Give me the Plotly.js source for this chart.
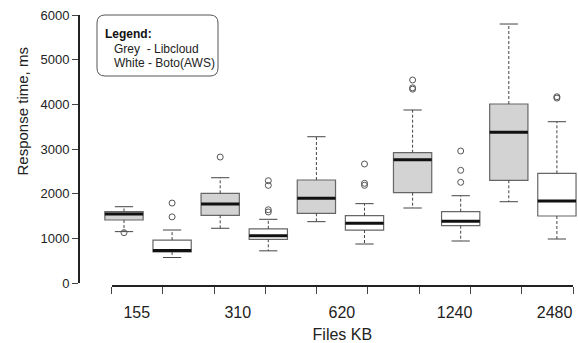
<!DOCTYPE html>
<html>
<head>
<meta charset="utf-8">
<script src="https://cdn.plot.ly/plotly-3.0.1.min.js"></script>
<style>html,body{margin:0;padding:0;background:#fff;}</style>
</head>
<body>
<div id="chart" style="width:578px;height:343px;"></div>
<script>
// ---- data ----
const files = ['155', '310', '620', '1240', '2480'];
const yTicks = [0, 1000, 2000, 3000, 4000, 5000, 6000];

// Grey - Libcloud
const libLower = [1150, 1225, 1373, 1679, 1820];
const libQ1    = [1410, 1515, 1560, 2022, 2299];
const libMed   = [1545, 1769, 1896, 2760, 3373];
const libQ3    = [1600, 2008, 2306, 2917, 4007];
const libUpper = [1708, 2357, 3275, 3873, 5798];
const libOut   = [[1127], [2820], [], [4545, 4370, 4340], []];

// White - Boto(AWS)
const botoLower = [570, 720, 873, 940, 985];
const botoQ1    = [695, 978, 1186, 1283, 1500];
const botoMed   = [725, 1056, 1336, 1381, 1836];
const botoQ3    = [960, 1212, 1507, 1597, 2456];
const botoUpper = [1186, 1426, 1776, 1954, 3611];
const botoOut   = [[1480, 1790], [2290, 2185, 1640, 1590], [2664, 2232, 2187], [2955, 2523, 2254], [4170, 4140]];

// ---- build traces ----
const libPos = files.map((_, i) => 2 * i + 1);
const botoPos = files.map((_, i) => 2 * i + 2);
const BOXW = 0.796, CAP = 0.19;

function boxTrace(pos, q1, med, q3, fill) {
  return {
    type: 'box', x: pos, q1: q1, median: med, q3: q3,
    lowerfence: q1, upperfence: q3, width: BOXW,
    fillcolor: fill, line: {color: '#666', width: 1.2},
    boxpoints: false, hoverinfo: 'skip', showlegend: false
  };
}
const wx = [], wy = [], cx = [], cy = [], mx = [], my = [], ox = [], oy = [];
function addGroup(pos, lo, q1, med, q3, up, outs) {
  pos.forEach((p, i) => {
    wx.push(p, p, null, p, p, null);
    wy.push(q3[i], up[i], null, q1[i], lo[i], null);
    cx.push(p - CAP, p + CAP, null, p - CAP, p + CAP, null);
    cy.push(up[i], up[i], null, lo[i], lo[i], null);
    mx.push(p - BOXW / 2, p + BOXW / 2, null);
    my.push(med[i], med[i], null);
    outs[i].forEach(v => { ox.push(p); oy.push(v); });
  });
}
addGroup(libPos, libLower, libQ1, libMed, libQ3, libUpper, libOut);
addGroup(botoPos, botoLower, botoQ1, botoMed, botoQ3, botoUpper, botoOut);

const traces = [
  boxTrace(libPos, libQ1, libMed, libQ3, '#d3d3d3'),
  boxTrace(botoPos, botoQ1, botoMed, botoQ3, '#ffffff'),
  {type: 'scatter', mode: 'lines', x: wx, y: wy, line: {color: '#444', width: 1, dash: '3px,2px'}, hoverinfo: 'skip', showlegend: false},
  {type: 'scatter', mode: 'lines', x: cx, y: cy, line: {color: '#444', width: 1}, hoverinfo: 'skip', showlegend: false},
  {type: 'scatter', mode: 'lines', x: mx, y: my, line: {color: '#111', width: 3}, hoverinfo: 'skip', showlegend: false},
  {type: 'scatter', mode: 'markers', x: ox, y: oy, marker: {symbol: 'circle-open', size: 6, color: '#555', line: {width: 1, color: '#555'}}, hoverinfo: 'skip', showlegend: false},
  {type: 'scatter', x: [], y: [], xaxis: 'x2', yaxis: 'y', hoverinfo: 'skip', showlegend: false},
  {type: 'scatter', x: [], y: [], xaxis: 'x3', yaxis: 'y', hoverinfo: 'skip', showlegend: false}
];

// ---- layout helpers (pixel -> paper) ----
const L = 80, R = 1, T = 15, B = 57, W = 578, H = 343;
const PW = W - L - R, PH = H - T - B;
const X = px => (px - L) / PW;
const Y = py => (H - B - py) / PH;

function roundRect(x0, y0, x1, y1, r) {
  return `M ${X(x0 + r)},${Y(y0)} L ${X(x1 - r)},${Y(y0)} Q ${X(x1)},${Y(y0)} ${X(x1)},${Y(y0 + r)} ` +
         `L ${X(x1)},${Y(y1 - r)} Q ${X(x1)},${Y(y1)} ${X(x1 - r)},${Y(y1)} ` +
         `L ${X(x0 + r)},${Y(y1)} Q ${X(x0)},${Y(y1)} ${X(x0)},${Y(y1 - r)} ` +
         `L ${X(x0)},${Y(y0 + r)} Q ${X(x0)},${Y(y0)} ${X(x0 + r)},${Y(y0)} Z`;
}

const FONT = 'Liberation Sans, Arial, Helvetica, sans-serif';
const tickDom = [X(111.7), X(573)];

const layout = {
  width: W, height: H,
  margin: {l: L, r: R, t: T, b: B, pad: 0},
  paper_bgcolor: '#ffffff', plot_bgcolor: 'rgba(0,0,0,0)',
  showlegend: false,
  font: {family: FONT, color: '#222'},
  xaxis: {range: [(L - 75.9) / 48.1, (W - R - 75.9) / 48.1], showline: false, showgrid: false, zeroline: false, showticklabels: false, ticks: ''},
  xaxis2: {domain: tickDom, range: [0, 9], anchor: 'free', position: 0, showline: true, linewidth: 2, linecolor: '#222',
           ticks: 'outside', ticklen: 7, tickwidth: 1, tickcolor: '#444', tickmode: 'linear', tick0: 0, dtick: 1,
           showticklabels: false, showgrid: false, zeroline: false},
  xaxis3: {domain: tickDom, range: [0, 9], anchor: 'free', position: 0, showline: false, showgrid: false, zeroline: false,
           ticks: 'outside', ticklen: 12, tickcolor: 'rgba(0,0,0,0)', tickmode: 'array',
           tickvals: [0.49, 2.46, 4.49, 6.69, 8.64], ticktext: files, tickfont: {size: 16, color: '#222'},
           title: {text: 'Files KB', font: {size: 16, color: '#222'}, standoff: 9}},
  yaxis: {domain: [3 / PH, 1], range: [0, 6000], showline: true, linewidth: 2, linecolor: '#222',
          ticks: 'outside', ticklen: 6, tickwidth: 1, tickcolor: '#444', tickmode: 'array', tickvals: yTicks,
          tickfont: {size: 13, color: '#222'}, showgrid: false, zeroline: false},
  shapes: [{type: 'path', xref: 'paper', yref: 'paper', path: roundRect(97, 15, 218, 76, 8), line: {color: '#555', width: 1}, fillcolor: 'rgba(0,0,0,0)'}],
  annotations: [
    {xref: 'paper', yref: 'paper', x: X(22), y: Y(111.5), text: 'Response time, ms', textangle: -90, showarrow: false, xanchor: 'center', yanchor: 'middle', font: {size: 15, color: '#222'}},
    {xref: 'paper', yref: 'paper', x: X(103), y: Y(34), text: '<b>Legend:</b>', showarrow: false, xanchor: 'left', yanchor: 'middle', font: {size: 12, color: '#111'}},
    {xref: 'paper', yref: 'paper', x: X(112), y: Y(49), text: 'Grey\u00a0\u00a0- Libcloud', showarrow: false, xanchor: 'left', yanchor: 'middle', font: {size: 12, color: '#222'}},
    {xref: 'paper', yref: 'paper', x: X(112), y: Y(63.3), text: 'White - Boto(AWS)', showarrow: false, xanchor: 'left', yanchor: 'middle', font: {size: 12, color: '#222'}}
  ]
};

Plotly.newPlot('chart', traces, layout, {staticPlot: true, displayModeBar: false});
</script>
</body>
</html>
